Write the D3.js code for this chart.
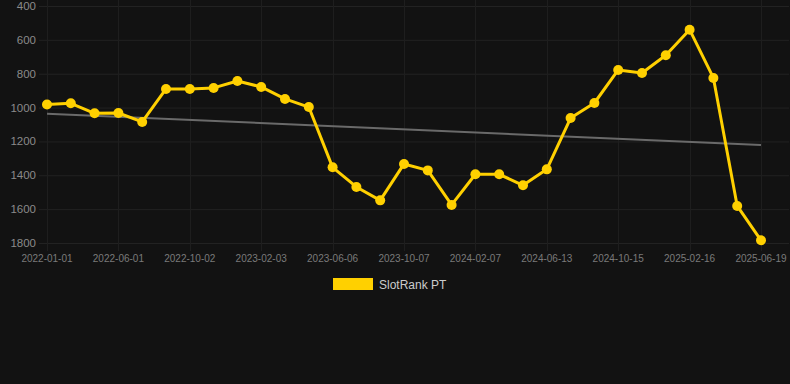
<!DOCTYPE html>
<html>
<head>
<meta charset="utf-8">
<script src="https://cdn.jsdelivr.net/npm/d3@7"></script>
<style>
  html, body { margin: 0; padding: 0; background: #121212; }
  svg { display: block; }
</style>
</head>
<body>
<div id="chart"></div>
<script>
// rank values, one per sample (lower is better, axis reversed)
const rankValues = [982, 975, 1034, 1032, 1085, 890, 890, 884, 843, 878,
  949, 997, 1353, 1469, 1548, 1333, 1371, 1575, 1394, 1394,
  1459, 1365, 1062, 973, 778, 796, 691, 540, 825, 1581, 1784];
const trendStart = 1036;
const trendEnd = 1221;
const tickLabels = ['2022-01-01', '2022-06-01', '2022-10-02', '2023-02-03', '2023-06-06',
  '2023-10-07', '2024-02-07', '2024-06-13', '2024-10-15', '2025-02-16', '2025-06-19'];
const tickIndex = [0, 3, 6, 9, 12, 15, 18, 21, 24, 27, 30];
const yTicks = [400, 600, 800, 1000, 1200, 1400, 1600, 1800];
const seriesName = 'SlotRank PT';

const width = 790, height = 384;
const gold = '#ffd000';

const svg = d3.select('#chart').append('svg')
  .attr('width', width)
  .attr('height', height);

const x = d3.scaleLinear()
  .domain([0, rankValues.length - 1])
  .range([47, 761]);

const y = d3.scaleLinear()
  .domain([400, 1800])
  .range([6, 243]);

// grid
svg.append('g')
  .selectAll('line')
  .data(yTicks)
  .join('line')
  .attr('x1', 39).attr('x2', 789)
  .attr('y1', d => y(d) + 0.5).attr('y2', d => y(d) + 0.5)
  .attr('stroke', '#222')
  .attr('stroke-width', 1);

svg.append('g')
  .selectAll('line')
  .data(tickIndex)
  .join('line')
  .attr('x1', d => Math.round(x(d)) + 0.5).attr('x2', d => Math.round(x(d)) + 0.5)
  .attr('y1', 0).attr('y2', 251)
  .attr('stroke', '#1e1e1e')
  .attr('stroke-width', 1);

// y labels
svg.append('g')
  .selectAll('text')
  .data(yTicks)
  .join('text')
  .attr('x', 36)
  .attr('y', d => y(d))
  .attr('dy', '0.35em')
  .attr('text-anchor', 'end')
  .attr('fill', '#8a8a8a')
  .style('font', '11.5px "Liberation Sans", Arial, sans-serif')
  .text(d => d);

// x labels
svg.append('g')
  .selectAll('text')
  .data(tickIndex)
  .join('text')
  .attr('x', d => x(d))
  .attr('y', 262)
  .attr('text-anchor', 'middle')
  .attr('fill', '#7a7a7a')
  .style('font', '10px "Liberation Sans", Arial, sans-serif')
  .text((d, i) => tickLabels[i]);

// trend line
svg.append('line')
  .attr('x1', x(0)).attr('y1', y(trendStart))
  .attr('x2', x(rankValues.length - 1)).attr('y2', y(trendEnd))
  .attr('stroke', '#6a6a6a')
  .attr('stroke-width', 2);

// series
const line = d3.line()
  .x((d, i) => x(i))
  .y(d => y(d));

svg.append('path')
  .datum(rankValues)
  .attr('d', line)
  .attr('fill', 'none')
  .attr('stroke', gold)
  .attr('stroke-width', 3)
  .attr('stroke-linejoin', 'round');

svg.append('g')
  .selectAll('circle')
  .data(rankValues)
  .join('circle')
  .attr('cx', (d, i) => x(i))
  .attr('cy', d => y(d))
  .attr('r', 5)
  .attr('fill', gold);

// legend
const legend = svg.append('g');
legend.append('rect')
  .attr('x', 333).attr('y', 278)
  .attr('width', 40).attr('height', 12)
  .attr('fill', gold);
legend.append('text')
  .attr('x', 379).attr('y', 288.5)
  .attr('fill', '#cccccc')
  .style('font', '12px "Liberation Sans", Arial, sans-serif')
  .text(seriesName);
</script>
</body>
</html>
